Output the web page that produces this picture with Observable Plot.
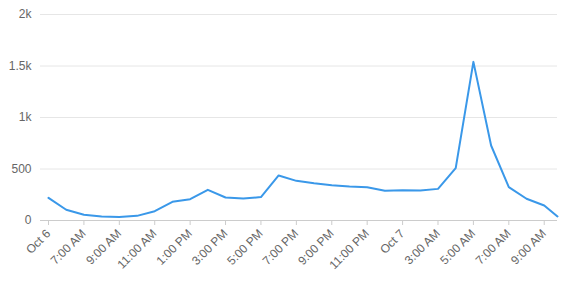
<!DOCTYPE html>
<html>
<head>
<meta charset="utf-8">
<script src="https://cdn.jsdelivr.net/npm/d3@7"></script>
<script src="https://cdn.jsdelivr.net/npm/@observablehq/plot@0.6"></script>
<style>
  html, body { margin: 0; padding: 0; background: #fff; }
  #chart svg { display: block; }
</style>
</head>
<body>
<div id="chart"></div>
<script>
const times = [
  "2023-10-06T05:00Z","2023-10-06T06:00Z","2023-10-06T07:00Z","2023-10-06T08:00Z",
  "2023-10-06T09:00Z","2023-10-06T10:00Z","2023-10-06T11:00Z","2023-10-06T12:00Z",
  "2023-10-06T13:00Z","2023-10-06T14:00Z","2023-10-06T15:00Z","2023-10-06T16:00Z",
  "2023-10-06T17:00Z","2023-10-06T18:00Z","2023-10-06T19:00Z","2023-10-06T20:00Z",
  "2023-10-06T21:00Z","2023-10-06T22:00Z","2023-10-06T23:00Z","2023-10-07T00:00Z",
  "2023-10-07T01:00Z","2023-10-07T02:00Z","2023-10-07T03:00Z","2023-10-07T04:00Z",
  "2023-10-07T05:00Z","2023-10-07T06:00Z","2023-10-07T07:00Z","2023-10-07T08:00Z",
  "2023-10-07T09:00Z","2023-10-07T09:45Z"
];
const values = [
  220, 104, 55, 38, 33, 45, 90, 181, 207, 298, 223, 214, 227, 437, 385, 362,
  343, 330, 323, 288, 294, 291, 307, 508, 1540, 728, 324, 211, 146, 39
];
const tickTimes = [
  "2023-10-06T05:00Z","2023-10-06T07:00Z","2023-10-06T09:00Z","2023-10-06T11:00Z",
  "2023-10-06T13:00Z","2023-10-06T15:00Z","2023-10-06T17:00Z","2023-10-06T19:00Z",
  "2023-10-06T21:00Z","2023-10-06T23:00Z","2023-10-07T01:00Z","2023-10-07T03:00Z",
  "2023-10-07T05:00Z","2023-10-07T07:00Z","2023-10-07T09:00Z"
];
const tickLabels = [
  "Oct 6","7:00 AM","9:00 AM","11:00 AM","1:00 PM","3:00 PM","5:00 PM","7:00 PM",
  "9:00 PM","11:00 PM","Oct 7","3:00 AM","5:00 AM","7:00 AM","9:00 AM"
];
const yTicks = [0, 500, 1000, 1500, 2000];
const yLabels = ["0", "500", "1k", "1.5k", "2k"];

const data = times.map((t, i) => ({ t: new Date(t), v: values[i] }));
const tickDates = tickTimes.map(t => new Date(t));

const chart = Plot.plot({
  width: 577,
  height: 281,
  marginLeft: 40,
  marginRight: 20,
  marginTop: 14,
  marginBottom: 61,
  insetLeft: 8,
  style: { fontFamily: "'Liberation Sans', Arial, sans-serif", fontSize: "12px", color: "#666", background: "#fff" },
  x: { type: "utc", domain: [data[0].t, data[data.length - 1].t] },
  y: { domain: [0, 2000] },
  marks: [
    Plot.gridY(yTicks, { stroke: "#e6e6e6", strokeOpacity: 1 }),
    Plot.axisY(yTicks, { tickSize: 0, tickPadding: 9, tickFormat: (d, i) => yLabels[i], fill: "#666", label: null }),
    Plot.ruleY([0], { stroke: "#ccc" }),
    Plot.axisX(tickDates, {
      tickSize: 5, stroke: "#ccc", tickRotate: -45, tickPadding: 6,
      tickFormat: (d, i) => tickLabels[i], fill: "#666", label: null, fontSize: 12
    }),
    Plot.line(data, { x: "t", y: "v", stroke: "#3a98e9", strokeWidth: 2 })
  ]
});
document.getElementById("chart").appendChild(chart);
</script>
</body>
</html>
